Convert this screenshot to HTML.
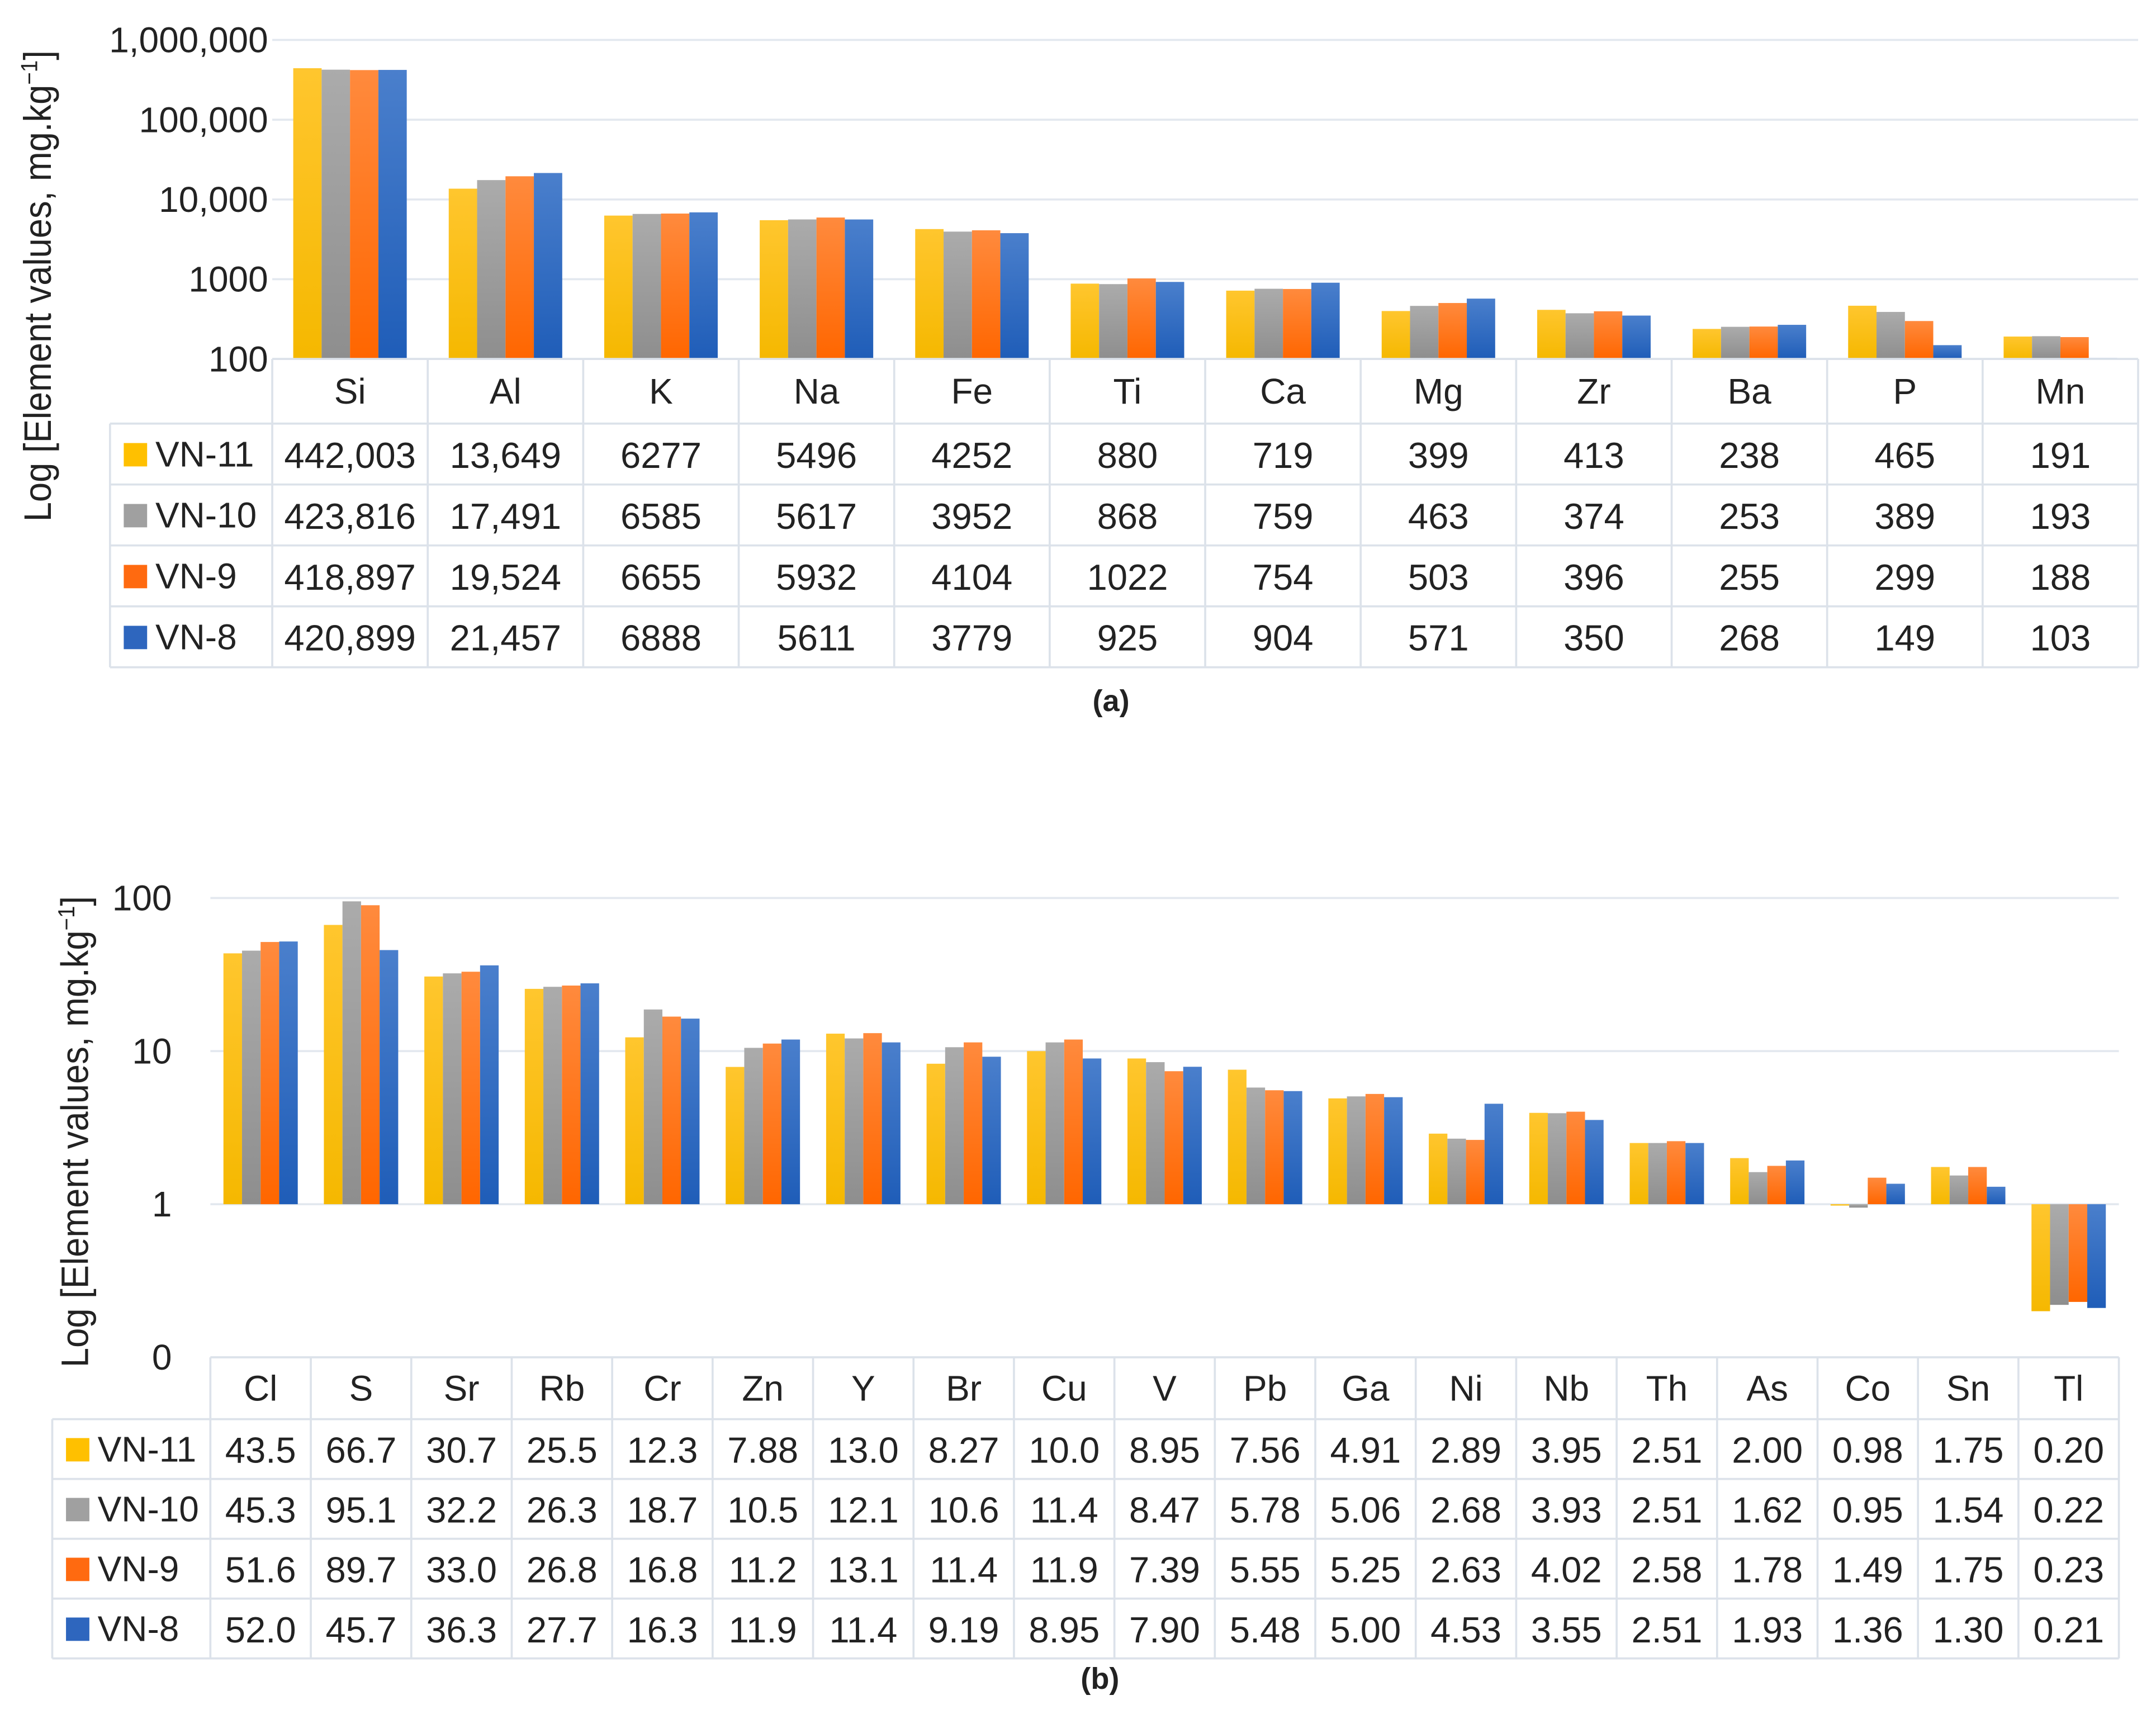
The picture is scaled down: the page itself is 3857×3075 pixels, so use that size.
<!DOCTYPE html>
<html><head><meta charset="utf-8">
<style>
html,body{margin:0;padding:0;background:#fff;}
svg{display:block;font-family:"Liberation Sans",sans-serif;}
</style></head>
<body>
<svg id="chart" xmlns="http://www.w3.org/2000/svg" width="3857" height="3075" viewBox="0 0 1568 1250">
<defs>
<linearGradient id="g0" x1="0" y1="0" x2="0" y2="1"><stop offset="0" stop-color="#FFC62E"/><stop offset="1" stop-color="#F5B800"/></linearGradient>
<linearGradient id="g1" x1="0" y1="0" x2="0" y2="1"><stop offset="0" stop-color="#ABABAB"/><stop offset="1" stop-color="#8E8E8E"/></linearGradient>
<linearGradient id="g2" x1="0" y1="0" x2="0" y2="1"><stop offset="0" stop-color="#FF8A3D"/><stop offset="1" stop-color="#FF6600"/></linearGradient>
<linearGradient id="g3" x1="0" y1="0" x2="0" y2="1"><stop offset="0" stop-color="#4A7FCC"/><stop offset="1" stop-color="#1F5DB8"/></linearGradient>
</defs>
<g id="ga"></g>
<g id="gb"></g>
</svg>
<script>
const seriesNames = ["VN-11","VN-10","VN-9","VN-8"];
const fills = ["url(#g0)","url(#g1)","url(#g2)","url(#g3)"];
const legendColors = ["#FFC000","#A0A0A0","#FF6A10","#2E66BE"];

const catsA = ["Si","Al","K","Na","Fe","Ti","Ca","Mg","Zr","Ba","P","Mn"];
const vn11A = [442003,13649,6277,5496,4252,880,719,399,413,238,465,191];
const vn10A = [423816,17491,6585,5617,3952,868,759,463,374,253,389,193];
const vn9A  = [418897,19524,6655,5932,4104,1022,754,503,396,255,299,188];
const vn8A  = [420899,21457,6888,5611,3779,925,904,571,350,268,149,103];
const ticksA = [100,1000,10000,100000,1000000];
const tickLabelsA = ["100","1000","10,000","100,000","1,000,000"];

const catsB = ["Cl","S","Sr","Rb","Cr","Zn","Y","Br","Cu","V","Pb","Ga","Ni","Nb","Th","As","Co","Sn","Tl"];
const vn11B = [43.5,66.7,30.7,25.5,12.3,7.88,13.0,8.27,10.0,8.95,7.56,4.91,2.89,3.95,2.51,2.00,0.98,1.75,0.20];
const vn10B = [45.3,95.1,32.2,26.3,18.7,10.5,12.1,10.6,11.4,8.47,5.78,5.06,2.68,3.93,2.51,1.62,0.95,1.54,0.22];
const vn9B  = [51.6,89.7,33.0,26.8,16.8,11.2,13.1,11.4,11.9,7.39,5.55,5.25,2.63,4.02,2.58,1.78,1.49,1.75,0.23];
const vn8B  = [52.0,45.7,36.3,27.7,16.3,11.9,11.4,9.19,8.95,7.90,5.48,5.00,4.53,3.55,2.51,1.93,1.36,1.30,0.21];
const ticksB = [0.1,1,10,100];
const tickLabelsB = ["0","1","10","100"];

const NS="http://www.w3.org/2000/svg";
function mk(parent,tag,attrs,text){const e=document.createElementNS(NS,tag);for(const k in attrs)e.setAttribute(k,attrs[k]);if(text!==undefined)e.textContent=text;parent.appendChild(e);return e;}

function drawChart(g,cfg){
  const {cats,series,ticks,tickLabels,left,right,topVal,botVal,yTop,yBot,baseVal,legendLeft,rowH,headH,fmt,font,tickX,titleX,titleY,caption,capY,groupFrac}=cfg;
  const lt=Math.log10(topVal), lb=Math.log10(botVal);
  const y=v=>yTop+(lt-Math.log10(v))/(lt-lb)*(yBot-yTop);
  const colW=(right-left)/cats.length;
  const x=i=>left+i*colW;
  ticks.forEach((t,i)=>{
    const gl=mk(g,'line',{x1:left,x2:right,y1:y(t),y2:y(t),stroke:'#E3E8EF','stroke-width':1.5});
    
    
    const tl=mk(g,'text',{x:tickX,y:y(t)+9,'text-anchor':'end','font-size':font+1,fill:'#222'},tickLabels[i]);
    
    
  });
  const gw=colW*groupFrac, bw=gw/4;
  cats.forEach((c,i)=>{
    series.forEach((s,j)=>{
      const v=s[i];
      const bx=x(i)+(colW-gw)/2+j*bw;
      const y1=Math.min(y(v),y(baseVal)), y2=Math.max(y(v),y(baseVal));
      const r=mk(g,'rect',{x:bx,y:y1,width:bw,height:Math.max(y2-y1,0.5),fill:fills[j]});
      
      
    });
  });
  const tb=mk(g,'g',{});
  
  
  const hTop=yBot, rTop=yBot+headH, tBot=rTop+4*rowH;
  const st={stroke:'#DCE2EA','stroke-width':1.5};
  mk(tb,'line',Object.assign({x1:left,x2:right,y1:hTop,y2:hTop},st));
  for(let r=0;r<=4;r++) mk(tb,'line',Object.assign({x1:legendLeft,x2:right,y1:rTop+r*rowH,y2:rTop+r*rowH},st));
  mk(tb,'line',Object.assign({x1:legendLeft,x2:legendLeft,y1:rTop,y2:tBot},st));
  for(let i=0;i<=cats.length;i++) mk(tb,'line',Object.assign({x1:x(i),x2:x(i),y1:hTop,y2:tBot},st));
  cats.forEach((c,i)=>{
    const t=mk(tb,'text',{x:x(i)+colW/2,y:hTop+headH/2+9,'text-anchor':'middle','font-size':font+1,fill:'#222'},c);
    
    
  });
  series.forEach((s,j)=>{
    const cy=rTop+j*rowH+rowH/2;
    const sw=mk(tb,'rect',{x:legendLeft+10,y:cy-8,width:17,height:17,fill:legendColors[j]});
    
    
    const ln=mk(tb,'text',{x:legendLeft+33,y:cy+9,'font-size':font+1,fill:'#222'},seriesNames[j]);
    
    
    s.forEach((v,i)=>{
      const t=mk(tb,'text',{x:x(i)+colW/2,y:cy+10,'text-anchor':'middle','font-size':font+1.5,fill:'#222'},fmt(v));
      
      
    });
  });
  const yt=mk(g,'text',{x:0,y:0,'text-anchor':'middle','font-size':28,fill:'#222',transform:`translate(${titleX},${titleY}) rotate(-90) scale(0.92,1)`});
  
  
  yt.textContent='Log [Element values, mg.kg';
  mk(yt,'tspan',{dy:-10,'font-size':17},'−1');
  mk(yt,'tspan',{dy:10},']');
  const cap=mk(g,'text',{x:cfg.capX,y:capY,'text-anchor':'middle','font-size':22,'font-weight':'bold',fill:'#222'},caption);
  
  
}

drawChart(document.getElementById('ga'),{
  cats:catsA,series:[vn11A,vn10A,vn9A,vn8A],ticks:ticksA,tickLabels:tickLabelsA,
  left:198,right:1555,topVal:1000000,botVal:100,yTop:29,yBot:261,baseVal:100,
  legendLeft:80,rowH:44.3,headH:47,font:25,tickX:195,titleX:37,titleY:208,
  fmt:v=>v>=10000?v.toLocaleString('en-US'):String(v),
  caption:'(a)',capX:808,capY:517,groupFrac:0.73
});
drawChart(document.getElementById('gb'),{
  cats:catsB,series:[vn11B,vn10B,vn9B,vn8B],ticks:ticksB,tickLabels:tickLabelsB,
  left:153,right:1541,topVal:100,botVal:0.1,yTop:653,yBot:987,baseVal:1,
  legendLeft:38,rowH:43.5,headH:45,font:25,tickX:125,titleX:64,titleY:823,
  fmt:v=>v>=10?v.toFixed(1):v.toFixed(2),
  caption:'(b)',capX:800,capY:1228,groupFrac:0.74
});
</script>
</body></html>
